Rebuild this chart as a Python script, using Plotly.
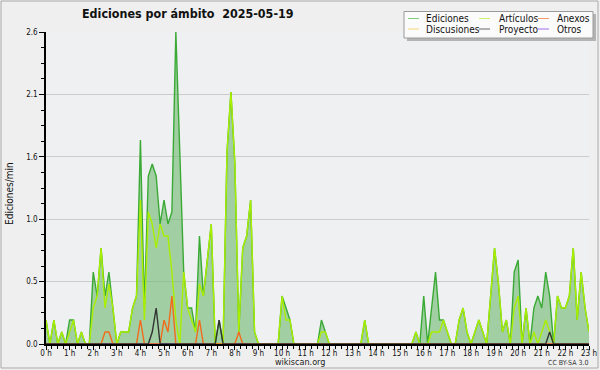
import plotly.graph_objects as go

# 10-minute buckets from 00:00 to 23:00 (edits per minute)
ediciones = [0.2, 0, 0.2, 0, 0.1, 0, 0.2, 0.2, 0, 0.1, 0, 0,
             0.6, 0.4, 0.8, 0.4, 0.6, 0.3, 0, 0.1, 0.1, 0.1, 0.3, 0.4,
             1.7, 0.3, 1.4, 1.5, 1.4, 1.0, 1.2, 1.0, 1.1, 2.6, 1.6, 0.6,
             0.3, 0.3, 0.1, 0.9, 0.4, 0.7, 1.0, 0, 0.2, 0, 1.6, 2.1,
             1.5, 0.1, 0.8, 0.9, 1.2, 0.1, 0, 0, 0, 0, 0, 0,
             0.4, 0.3, 0.2, 0, 0, 0, 0, 0, 0, 0, 0.2, 0.1,
             0, 0, 0, 0, 0, 0, 0, 0, 0, 0.2, 0, 0,
             0, 0, 0, 0, 0, 0, 0, 0, 0, 0, 0.1, 0,
             0.4, 0, 0.3, 0.6, 0.2, 0.2, 0.1, 0, 0, 0.2, 0.3, 0.1,
             0, 0.1, 0.2, 0.1, 0, 0.4, 0.8, 0.5, 0.1, 0.2, 0, 0.6,
             0.7, 0, 0.3, 0, 0.3, 0.4, 0.3, 0.6, 0.4, 0, 0.4, 0.3,
             0.3, 0.4, 0.8, 0.2, 0.6, 0.3, 0.1]
articulos = [0.2, 0, 0.2, 0, 0.1, 0, 0.1, 0.2, 0, 0.1, 0, 0,
             0.3, 0.4, 0.8, 0.3, 0.5, 0.3, 0, 0.1, 0.1, 0.1, 0.3, 0.4,
             1.2, 0.2, 1.1, 1.0, 0.8, 1.0, 0.9, 0.9, 0.6, 0.2, 0, 0.6,
             0.3, 0.2, 0.1, 0.5, 0.4, 0.7, 1.0, 0, 0, 0, 1.6, 2.1,
             1.5, 0.1, 0.8, 0.9, 1.2, 0.1, 0, 0, 0, 0, 0, 0,
             0.4, 0.2, 0.2, 0, 0, 0, 0, 0, 0, 0, 0.1, 0.1,
             0, 0, 0, 0, 0, 0, 0, 0, 0, 0.2, 0, 0,
             0, 0, 0, 0, 0, 0, 0, 0, 0, 0, 0.1, 0,
             0, 0, 0.1, 0.1, 0.1, 0.2, 0.1, 0, 0, 0.2, 0.3, 0.1,
             0, 0.1, 0.2, 0.1, 0, 0.4, 0.8, 0.5, 0.1, 0.2, 0, 0.3,
             0.4, 0, 0.3, 0, 0.1, 0, 0.1, 0.2, 0.1, 0, 0.4, 0.3,
             0.3, 0.4, 0.8, 0.2, 0.6, 0.3, 0.1]
anexos = [0, 0, 0, 0, 0, 0, 0, 0, 0, 0, 0, 0,
          0, 0, 0, 0.1, 0.1, 0, 0, 0, 0, 0, 0, 0,
          0.2, 0, 0, 0, 0, 0, 0.2, 0.1, 0.4, 0, 0, 0,
          0, 0, 0, 0.2, 0, 0, 0, 0, 0, 0, 0, 0,
          0, 0.1, 0, 0, 0, 0, 0, 0, 0, 0, 0, 0,
          0, 0, 0, 0, 0, 0, 0, 0, 0, 0, 0, 0,
          0, 0, 0, 0, 0, 0, 0, 0, 0, 0, 0, 0,
          0, 0, 0, 0, 0, 0, 0, 0, 0, 0, 0, 0,
          0, 0, 0, 0, 0, 0, 0, 0, 0, 0, 0, 0,
          0, 0, 0, 0, 0, 0, 0, 0, 0, 0, 0, 0,
          0, 0, 0, 0, 0, 0, 0, 0, 0, 0, 0, 0,
          0, 0, 0, 0, 0, 0, 0]
proyecto = [0, 0, 0, 0, 0, 0, 0, 0, 0, 0, 0, 0,
            0, 0, 0, 0, 0, 0, 0, 0, 0, 0, 0, 0,
            0, 0, 0, 0.1, 0.3, 0, 0, 0, 0, 0, 0, 0,
            0, 0, 0, 0, 0, 0, 0, 0, 0.2, 0, 0, 0,
            0, 0, 0, 0, 0, 0, 0, 0, 0, 0, 0, 0,
            0, 0, 0, 0, 0, 0, 0, 0, 0, 0, 0, 0,
            0, 0, 0, 0, 0, 0, 0, 0, 0, 0, 0, 0,
            0, 0, 0, 0, 0, 0, 0, 0, 0, 0, 0, 0,
            0, 0, 0, 0, 0, 0, 0, 0, 0, 0, 0, 0,
            0, 0, 0, 0, 0, 0, 0, 0, 0, 0, 0, 0,
            0, 0, 0, 0, 0, 0, 0, 0, 0.1, 0, 0, 0,
            0, 0, 0, 0, 0, 0, 0]
discusiones = [0] * len(ediciones)
otros = [0] * len(ediciones)

hours = [i / 6 for i in range(len(ediciones))]
hour_ticks = list(range(24))
hour_labels = [f"{h} h" for h in hour_ticks]
y_ticks = [0, 0.52, 1.04, 1.56, 2.08, 2.6]
y_labels = ["0.0", "0.5", "1.0", "1.6", "2.1", "2.6"]

series_names = ["Ediciones", "Artículos", "Anexos", "Discusiones", "Proyecto", "Otros"]
series_colors = ["#3aaa35", "#aaee00", "#f26a1b", "#f5c842", "#333333", "#9040e0"]
legend_colors = ["#7dcf7a", "#cdf56a", "#f59a6a", "#f7d878", "#666666", "#a070f0"]

FONT = "DejaVu Sans Condensed, Liberation Sans Narrow, DejaVu Sans, sans-serif"

fig = go.Figure()
fig.add_trace(go.Scatter(x=hours, y=ediciones, mode="lines", fill="tozeroy",
                         fillcolor="rgba(110,185,110,0.6)",
                         line=dict(color=series_colors[0], width=1.4), showlegend=False))
fig.add_trace(go.Scatter(x=hours, y=discusiones, mode="lines",
                         line=dict(color=series_colors[3], width=1.4), showlegend=False))
fig.add_trace(go.Scatter(x=hours, y=otros, mode="lines",
                         line=dict(color=series_colors[5], width=1.4), showlegend=False))
fig.add_trace(go.Scatter(x=hours, y=articulos, mode="lines",
                         line=dict(color=series_colors[1], width=1.4), showlegend=False))
fig.add_trace(go.Scatter(x=hours, y=anexos, mode="lines",
                         line=dict(color=series_colors[2], width=1.4), showlegend=False))
fig.add_trace(go.Scatter(x=hours, y=proyecto, mode="lines",
                         line=dict(color=series_colors[4], width=1.4), showlegend=False))

# plot area in pixels
L, R, T, B = 46, 589, 32, 344
W, H = 600, 370
def px(x):
    return (x - L) / (R - L)
def py(y):
    return (B - y) / (B - T)

shapes = []
annotations = []
# outer border
shapes.append(dict(type="rect", xref="paper", yref="paper", x0=px(1), x1=px(598), y0=py(1), y1=py(368),
                   line=dict(color="#aaaaaa", width=1), fillcolor="rgba(0,0,0,0)", layer="below"))
# legend shadow + box
shapes.append(dict(type="rect", xref="paper", yref="paper", x0=px(407), x1=px(596), y0=py(14), y1=py(41),
                   line=dict(width=0), fillcolor="#b4b4b4"))
shapes.append(dict(type="rect", xref="paper", yref="paper", x0=px(404), x1=px(593), y0=py(11.5), y1=py(38),
                   line=dict(color="#9a9a9a", width=1), fillcolor="#fbfbfb"))
cols = [(408, 424), (479, 497), (538, 555)]
rows = [19, 29.5]
for k in range(6):
    c = cols[k % 3]
    r = rows[k // 3]
    shapes.append(dict(type="line", xref="paper", yref="paper", x0=px(c[0]), x1=px(c[0] + 11),
                       y0=py(r - 0.5), y1=py(r - 0.5), line=dict(color=legend_colors[k], width=1)))
    annotations.append(dict(text=series_names[k], xref="paper", yref="paper", x=px(c[1]), y=py(r),
                            xanchor="left", yanchor="middle", showarrow=False,
                            font=dict(family=FONT, size=10, color="#111111")))

annotations.append(dict(text="<b>Ediciones por ámbito  2025-05-19</b>", xref="paper", yref="paper",
                        x=px(188), y=py(14), xanchor="center", yanchor="middle", showarrow=False,
                        font=dict(family=FONT, size=12.4, color="#111111")))
annotations.append(dict(text="Ediciones/min", xref="paper", yref="paper", x=px(10), y=py(194),
                        xanchor="center", yanchor="middle", showarrow=False, textangle=-90,
                        font=dict(family=FONT, size=10, color="#111111")))
annotations.append(dict(text="wikiscan.org", xref="paper", yref="paper", x=px(300), y=py(361.5),
                        xanchor="center", yanchor="middle", showarrow=False,
                        font=dict(family=FONT, size=9, color="#222222")))
annotations.append(dict(text="CC BY-SA 3.0", xref="paper", yref="paper", x=px(590), y=py(362.5),
                        xanchor="right", yanchor="middle", showarrow=False,
                        font=dict(family=FONT, size=7, color="#333333")))

fig.update_layout(
    width=W, height=H,
    margin=dict(l=L, r=W - R, t=T, b=H - B, pad=0, autoexpand=False),
    paper_bgcolor="#efefef", plot_bgcolor="#eef0f2",
    font=dict(family=FONT, size=8, color="#111111"),
    shapes=shapes, annotations=annotations, showlegend=False,
)
fig.update_xaxes(range=[0, 23], tickvals=hour_ticks, ticktext=hour_labels, automargin=False,
                 showgrid=False, zeroline=False, showline=True, linecolor="#000000", linewidth=1.5,
                 ticks="outside", ticklen=4, tickcolor="#000000", tickwidth=1,
                 tickfont=dict(size=8), ticklabelstandoff=-3,
                 minor=dict(dtick=0.25, tick0=0, ticks="outside", ticklen=3, tickcolor="#000000"))
fig.update_yaxes(range=[0, 2.6], tickvals=y_ticks, ticktext=y_labels, automargin=False,
                 showgrid=True, gridcolor="#cccccc", gridwidth=1, zeroline=False,
                 showline=True, linecolor="#000000", linewidth=1.5,
                 ticks="outside", ticklen=5, tickcolor="#000000", tickwidth=1,
                 tickfont=dict(size=8),
                 minor=dict(dtick=0.13, tick0=0, ticks="outside", ticklen=3, tickcolor="#000000", showgrid=False))

fig.write_html("out.html", config={"displayModeBar": False},
               post_script="document.body.style.margin='0px';")
